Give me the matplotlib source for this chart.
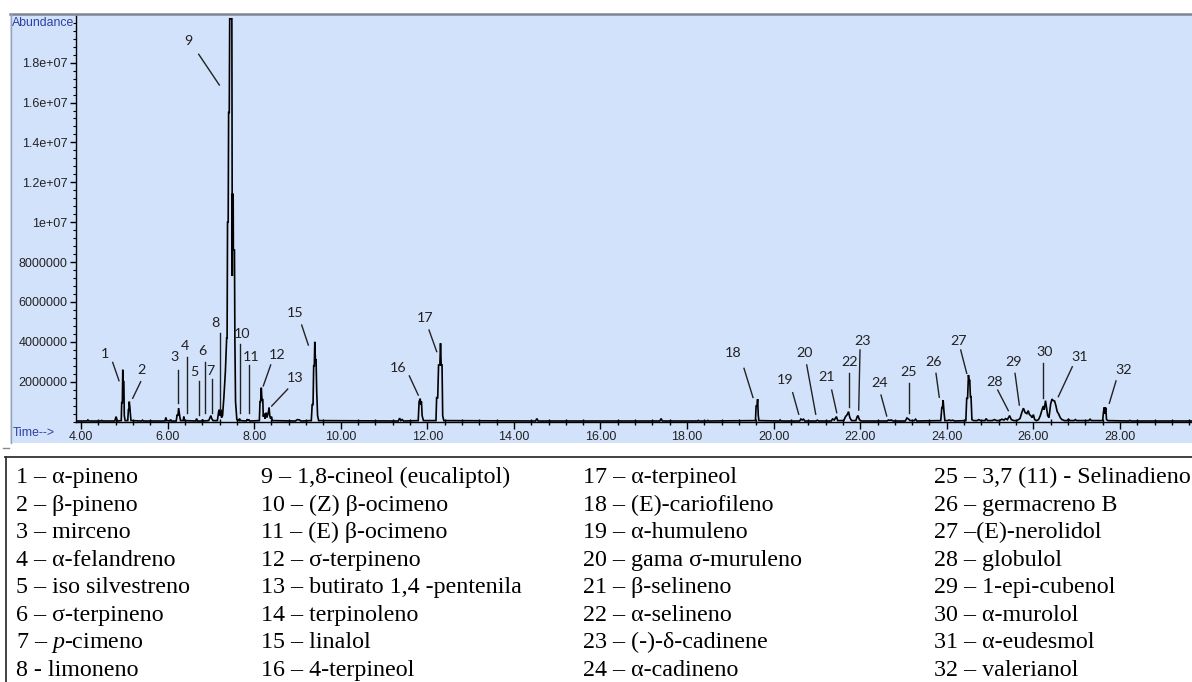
import matplotlib
matplotlib.use("Agg")
import matplotlib.pyplot as plt
from matplotlib.lines import Line2D
from matplotlib.patches import Rectangle
from matplotlib.ticker import MultipleLocator

plt.rcParams['mathtext.fontset'] = 'custom'
plt.rcParams['mathtext.rm'] = 'Liberation Serif'
plt.rcParams['mathtext.it'] = 'Liberation Serif:italic'

# ---------------- data ----------------
# retention time (min) of the trace vertices
time_min = [
    3.885, 4.14, 4.16, 4.18, 4.46, 4.48, 4.50, 4.78, 4.81, 4.84,
    4.93, 4.94, 4.955, 4.965, 4.975, 4.99, 5.00, 5.02,
    5.08, 5.095, 5.105, 5.115, 5.13, 5.14, 5.155,
    5.40, 5.42, 5.44, 5.94, 5.96, 5.98, 6.05, 6.07, 6.09,
    6.20, 6.22, 6.24, 6.255, 6.27, 6.285, 6.30, 6.36, 6.375, 6.39,
    6.65, 6.67, 6.69, 6.79, 6.81, 6.83, 6.95, 6.98, 7.00, 7.02, 7.05,
    7.15, 7.18, 7.20, 7.215, 7.23, 7.245, 7.27, 7.30, 7.335, 7.365, 7.375,
    7.385, 7.40, 7.41, 7.425, 7.435, 7.485, 7.495, 7.50, 7.515, 7.52,
    7.545, 7.555, 7.57, 7.60, 7.65, 7.66, 7.68,
    7.82, 7.84, 7.86, 7.88, 7.90,
    8.12, 8.135, 8.15, 8.165, 8.18, 8.20, 8.21, 8.235, 8.25, 8.275, 8.295,
    8.33, 8.345, 8.36, 8.38, 8.40, 8.42,
    8.95, 9.00, 9.05, 9.08,
    9.32, 9.34, 9.36, 9.375, 9.39, 9.40, 9.415, 9.43, 9.445, 9.465, 9.49,
    11.33, 11.36, 11.39, 11.42, 11.45,
    11.79, 11.81, 11.835, 11.85, 11.865, 11.88, 11.91,
    12.20, 12.215, 12.24, 12.26, 12.29, 12.305, 12.32, 12.34, 12.355, 12.38,
    14.50, 14.53, 14.56, 17.37, 17.40, 17.43, 18.24, 18.26, 18.28,
    18.46, 18.48, 18.50,
    19.58, 19.595, 19.615, 19.63, 19.645, 19.66,
    20.13, 20.15, 20.17, 20.60, 20.63, 20.66, 20.69, 20.72,
    20.98, 21.01, 21.04, 21.33, 21.36, 21.40, 21.45, 21.48,
    21.62, 21.66, 21.70, 21.73, 21.76, 21.80,
    21.90, 21.93, 21.95, 21.98, 22.02,
    22.62, 22.65, 22.68, 22.72, 22.76,
    23.04, 23.08, 23.12, 23.15, 23.25, 23.28, 23.31,
    23.86, 23.885, 23.90, 23.915, 23.935, 23.955,
    24.02, 24.05, 24.10, 24.14, 24.18,
    24.44, 24.46, 24.48, 24.50, 24.515, 24.53, 24.545, 24.56, 24.58, 24.62,
    24.70, 24.74, 24.78, 24.88, 24.91, 24.94, 25.05, 25.10, 25.15,
    25.22, 25.27, 25.32, 25.36, 25.40, 25.45, 25.49, 25.55,
    25.62, 25.69, 25.74, 25.77, 25.81, 25.85, 25.88, 25.91, 25.94, 25.97,
    26.00, 26.03, 26.07,
    26.12, 26.16, 26.20, 26.23, 26.25, 26.28, 26.31, 26.33, 26.36,
    26.40, 26.43, 26.46, 26.49, 26.52, 26.55, 26.58, 26.62, 26.66, 26.72,
    26.78, 26.81, 26.85, 26.94, 26.97, 27.00, 27.28, 27.31, 27.34,
    27.60, 27.62, 27.64, 27.655, 27.67, 27.69, 27.72,
    28.20, 28.23, 28.26, 29.664,
]
# abundance of the trace vertices, in millions of counts
abundance_millions = [
    0.03, 0.03, 0.08, 0.03, 0.03, 0.06, 0.03, 0.03, 0.25, 0.03,
    0.05, 0.95, 0.95, 2.6, 2.0, 2.0, 0.3, 0.05,
    0.05, 0.6, 0.6, 1.0, 0.7, 0.4, 0.05,
    0.03, 0.07, 0.03, 0.03, 0.2, 0.05, 0.03, 0.1, 0.03,
    0.03, 0.35, 0.3, 0.68, 0.45, 0.2, 0.05, 0.05, 0.25, 0.05,
    0.03, 0.15, 0.03, 0.03, 0.1, 0.03, 0.05, 0.2, 0.3, 0.15, 0.05,
    0.05, 0.5, 0.6, 0.3, 0.6, 0.2, 0.3, 1.2, 2.5, 4.2, 4.2,
    10.0, 10.0, 15.5, 15.5, 20.2, 20.2, 7.3, 11.4, 11.4, 8.6,
    8.6, 4.0, 1.0, 0.1, 0.05, 0.15, 0.05,
    0.03, 0.12, 0.05, 0.1, 0.03,
    0.05, 1.0, 1.0, 1.7, 1.1, 1.1, 0.25, 0.4, 0.15, 0.45, 0.2,
    0.5, 0.7, 0.3, 0.15, 0.25, 0.05,
    0.03, 0.1, 0.08, 0.03,
    0.05, 0.85, 0.85, 2.8, 2.8, 4.0, 3.1, 3.1, 1.5, 0.3, 0.05,
    0.03, 0.17, 0.05, 0.1, 0.03,
    0.05, 1.0, 1.15, 0.85, 1.0, 0.3, 0.05,
    0.05, 1.2, 1.2, 2.84, 2.84, 3.93, 2.84, 2.84, 0.3, 0.05,
    0.03, 0.15, 0.03, 0.03, 0.15, 0.03, 0.03, 0.06, 0.03,
    0.03, 0.06, 0.03,
    0.05, 0.78, 0.78, 1.13, 0.3, 0.05,
    0.03, 0.08, 0.03, 0.03, 0.13, 0.08, 0.12, 0.03,
    0.03, 0.07, 0.03, 0.03, 0.13, 0.08, 0.25, 0.05,
    0.05, 0.25, 0.35, 0.5, 0.2, 0.05,
    0.05, 0.25, 0.3, 0.1, 0.03,
    0.03, 0.08, 0.06, 0.08, 0.03,
    0.03, 0.18, 0.12, 0.05, 0.05, 0.12, 0.03,
    0.05, 0.7, 0.7, 1.08, 0.5, 0.05,
    0.05, 0.08, 0.05, 0.07, 0.03,
    0.05, 1.17, 1.17, 2.34, 2.05, 2.1, 1.25, 1.25, 0.1, 0.05,
    0.05, 0.1, 0.05, 0.05, 0.15, 0.05, 0.05, 0.1, 0.05,
    0.05, 0.12, 0.08, 0.15, 0.1, 0.3, 0.1, 0.05,
    0.05, 0.15, 0.5, 0.67, 0.45, 0.4, 0.55, 0.35, 0.3, 0.2,
    0.35, 0.1, 0.05,
    0.1, 0.3, 0.6, 0.78, 0.6, 1.05, 0.6, 0.3, 0.2,
    0.9, 1.13, 1.05, 1.03, 0.8, 0.5, 0.4, 0.2, 0.1, 0.05,
    0.05, 0.12, 0.05, 0.05, 0.1, 0.05, 0.05, 0.12, 0.05,
    0.05, 0.5, 0.72, 0.4, 0.7, 0.1, 0.05,
    0.03, 0.06, 0.03, 0.03,
]
abundance = [v * 1e6 for v in abundance_millions]

x_tick_values = [4, 6, 8, 10, 12, 14, 16, 18, 20, 22, 24, 26, 28]
x_tick_labels = ["4.00", "6.00", "8.00", "10.00", "12.00", "14.00", "16.00",
                 "18.00", "20.00", "22.00", "24.00", "26.00", "28.00"]
y_tick_values = [2e6, 4e6, 6e6, 8e6, 10e6, 12e6, 14e6, 16e6, 18e6]
y_tick_labels = ["2000000", "4000000", "6000000", "8000000", "1e+07",
                 "1.2e+07", "1.4e+07", "1.6e+07", "1.8e+07"]

peak_ids = [str(i) for i in range(1, 33) if i != 14]

compound_table = [
    "1 – α-pineno", "2 – β-pineno", "3 – mirceno", "4 – α-felandreno",
    "5 – iso silvestreno", "6 – σ-terpineno", "7 – $\\mathit{p}$-cimeno",
    "8 - limoneno",
    "9 – 1,8-cineol (eucaliptol)", "10 – (Z) β-ocimeno", "11 – (E) β-ocimeno",
    "12 – σ-terpineno", "13 – butirato 1,4 -pentenila", "14 – terpinoleno",
    "15 – linalol", "16 – 4-terpineol",
    "17 – α-terpineol", "18 – (E)-cariofileno", "19 – α-humuleno",
    "20 – gama σ-muruleno", "21 – β-selineno", "22 – α-selineno",
    "23 – (-)-δ-cadinene", "24 – α-cadineno",
    "25 – 3,7 (11) - Selinadieno", "26 – germacreno B", "27 –(E)-nerolidol",
    "28 – globulol", "29 – 1-epi-cubenol", "30 – α-murolol",
    "31 – α-eudesmol", "32 – valerianol",
]

# ---------------- layout (label placement, not data) ----------------
# peak id -> (text t, text abundance M, line start t, a, line end t, a)
LABEL_LAYOUT = {
    "1": (4.547, 3.39, 4.732, 2.97, 4.878, 2.05),
    "2": (5.402, 2.59, 5.379, 2.00, 5.194, 1.17),
    "3": (6.171, 3.25, 6.248, 2.59, 6.248, 0.92),
    "4": (6.395, 3.81, 6.442, 3.22, 6.442, 0.42),
    "5": (6.617, 2.50, 6.719, 2.05, 6.719, 0.33),
    "6": (6.802, 3.54, 6.871, 2.99, 6.871, 0.42),
    "7": (6.996, 2.55, 7.033, 2.14, 7.033, 0.45),
    "8": (7.095, 4.96, 7.211, 4.43, 7.211, 0.58),
    "9": (6.479, 19.10, 6.719, 18.42, 7.195, 16.88),
    "10": (7.712, 4.41, 7.666, 3.88, 7.666, 0.42),
    "11": (7.927, 3.22, 7.874, 2.84, 7.874, 0.42),
    "12": (8.528, 3.34, 8.382, 2.84, 8.211, 1.79),
    "13": (8.943, 2.20, 8.775, 1.63, 8.405, 0.78),
    "15": (8.943, 5.43, 9.098, 4.84, 9.251, 3.84),
    "16": (11.33, 2.67, 11.584, 2.29, 11.79, 1.33),
    "17": (11.946, 5.18, 12.039, 4.59, 12.217, 3.51),
    "18": (19.061, 3.43, 19.315, 2.67, 19.523, 1.21),
    "19": (20.262, 2.09, 20.440, 1.45, 20.579, 0.37),
    "20": (20.708, 3.43, 20.764, 2.84, 20.972, 0.37),
    "21": (21.226, 2.25, 21.341, 1.58, 21.457, 0.45),
    "22": (21.748, 2.97, 21.741, 2.42, 21.741, 0.72),
    "23": (22.057, 4.06, 21.995, 3.59, 21.965, 0.58),
    "24": (22.457, 1.95, 22.48, 1.33, 22.612, 0.28),
    "25": (23.111, 2.47, 23.134, 1.92, 23.134, 0.42),
    "26": (23.688, 2.97, 23.75, 2.42, 23.826, 1.22),
    "27": (24.282, 4.06, 24.321, 3.59, 24.46, 2.42),
    "28": (25.097, 2.00, 25.176, 1.58, 25.421, 0.55),
    "29": (25.536, 2.97, 25.576, 2.42, 25.675, 0.83),
    "30": (26.268, 3.51, 26.229, 2.92, 26.229, 1.17),
    "31": (27.077, 3.25, 26.899, 2.75, 26.576, 1.25),
    "32": (28.093, 2.59, 27.909, 2.04, 27.754, 0.92),
}

W, H = 1192, 682


def fx(px):
    return px / W


def fy(py):
    return 1 - py / H


fig = plt.figure(figsize=(W / 100, H / 100), dpi=100)
fig.patch.set_facecolor("white")

# chromatogram panel background and border (drawn beneath the axes)
fig.patches.append(Rectangle((fx(10), fy(443)), 1 - fx(10), (443 - 14) / H,
                             transform=fig.transFigure, facecolor="#D3E2FB",
                             edgecolor="none", zorder=-10))
fig.lines.append(Line2D([fx(10), 1], [fy(14), fy(14)], transform=fig.transFigure,
                        color="#7E8593", lw=1.8, zorder=-5))
fig.lines.append(Line2D([fx(10.5), fx(10.5)], [fy(14), fy(443)],
                        transform=fig.transFigure, color="#9AA3B3", lw=1.0, zorder=-5))

ax = fig.add_axes([fx(76), fy(421.6), 1 - fx(76), (421.6 - 16) / H])
ax.set_zorder(1)
ax.patch.set_visible(False)
for s in ("top", "right"):
    ax.spines[s].set_visible(False)
for s in ("left", "bottom"):
    ax.spines[s].set_color("black")
    ax.spines[s].set_linewidth(1.0)

ax.plot(time_min, abundance, color="black", lw=1.2, solid_joinstyle="miter")

ax.set_xlim(3.8845, 29.664)
ax.set_ylim(0, 20.34e6)
ax.set_xticks(x_tick_values, x_tick_labels)
ax.set_yticks(y_tick_values, y_tick_labels)
ax.xaxis.set_minor_locator(MultipleLocator(0.4))
ax.yaxis.set_minor_locator(MultipleLocator(4e5))
for lab in ax.get_xticklabels() + ax.get_yticklabels():
    lab.set_fontfamily("Liberation Sans")
    lab.set_fontsize(9)
    lab.set_color("#222222")
ax.tick_params(axis="x", which="major", direction="out", length=5, width=1, pad=2)
ax.tick_params(axis="x", which="minor", direction="inout", length=5, width=1)
ax.tick_params(axis="y", which="major", direction="out", length=4, width=1, pad=2)
ax.tick_params(axis="y", which="minor", direction="out", length=2, width=0.8)

for pid in peak_ids:
    tx, ta, x1, a1, x2, a2 = LABEL_LAYOUT[pid]
    ax.text(tx, ta * 1e6, pid, ha="center", va="center", fontsize=10.3,
            family="Lato", color="#222222")
    ax.plot([x1, x2], [a1 * 1e6, a2 * 1e6], color="#222222", lw=1.0)

fig.text(fx(12), fy(23.3), "Abundance", color="#2B3FA6", fontsize=8.8,
         family="Liberation Sans", ha="left", va="center")
fig.text(fx(13), fy(433.5), "Time-->", color="#2B3FA6", fontsize=8.8,
         family="Liberation Sans", ha="left", va="center")

# compound table
fig.lines.append(Line2D([fx(5), 1], [fy(456.5), fy(456.5)], transform=fig.transFigure,
                        color="#333333", lw=1.3))
fig.lines.append(Line2D([fx(5.5), fx(5.5)], [fy(456.5), 0], transform=fig.transFigure,
                        color="#333333", lw=1.3))
fig.lines.append(Line2D([fx(3), fx(9)], [fy(447.5), fy(447.5)], transform=fig.transFigure,
                        color="#888888", lw=1.0))

col_x = [16, 261, 583, 934]
for i, entry in enumerate(compound_table):
    c, r = divmod(i, 8)
    fig.text(fx(col_x[c]), fy(483 + 27.57 * r), entry, fontsize=17.3,
             family="Liberation Serif", color="black", ha="left", va="baseline")

fig.savefig("out.png", dpi=100)
